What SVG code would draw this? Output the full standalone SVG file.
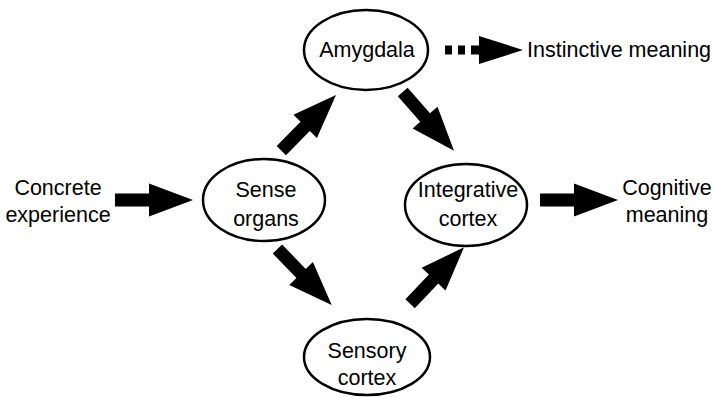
<svg xmlns="http://www.w3.org/2000/svg" xmlns:xlink="http://www.w3.org/1999/xlink" width="713" height="397" viewBox="0 0 713 397">
  <style>
    .node ellipse { fill: #fff; stroke: #000; stroke-width: 2.5; }
    text { font-family: "Liberation Sans", Arial, sans-serif; font-size: 21.5px; fill: #000; text-anchor: middle; }
    .lbl-start { text-anchor: start; }
    .arrow { fill: #000; }
  </style>
  <defs>
    <!-- block arrow, tip at origin, pointing along +x -->
    <path id="blockArrow" d="M0,0 L-44,-16.5 L-44,-6.5 L-78,-6.5 L-78,6.5 L-44,6.5 L-44,16.5 Z"/>
  </defs>

  <rect width="713" height="397" fill="#fff"/>

  <!-- connectors -->
  <g id="connectors" class="arrow">
    <use xlink:href="#blockArrow" transform="translate(193,200)"/>
    <use xlink:href="#blockArrow" transform="translate(336,95) rotate(-45.5)"/>
    <use xlink:href="#blockArrow" transform="translate(454,150.7) rotate(48.9)"/>
    <use xlink:href="#blockArrow" transform="translate(331.7,305) rotate(45.9)"/>
    <use xlink:href="#blockArrow" transform="translate(464,247.3) rotate(-46.3)"/>
    <use xlink:href="#blockArrow" transform="translate(618,200)"/>
    <!-- dotted arrow to the instinctive meaning -->
    <g id="dottedArrow">
      <rect x="445" y="45.5" width="7" height="9"/>
      <rect x="458" y="45.5" width="7" height="9"/>
      <rect x="471" y="45.5" width="8" height="9"/>
      <path d="M523,50 L479,36 L479,64 Z"/>
    </g>
  </g>

  <!-- free labels -->
  <g id="concrete-experience">
    <text x="58" y="195">Concrete</text>
    <text x="58" y="222">experience</text>
  </g>
  <g id="instinctive-meaning">
    <text class="lbl-start" x="527" y="57">Instinctive meaning</text>
  </g>
  <g id="cognitive-meaning">
    <text x="667" y="195">Cognitive</text>
    <text x="667" y="222">meaning</text>
  </g>

  <!-- nodes -->
  <g id="amygdala" class="node">
    <ellipse cx="366" cy="50" rx="62" ry="40"/>
    <text x="367" y="57">Amygdala</text>
  </g>
  <g id="sense-organs" class="node">
    <ellipse cx="264" cy="200" rx="61" ry="41"/>
    <text x="266" y="197">Sense</text>
    <text x="266" y="226">organs</text>
  </g>
  <g id="integrative-cortex" class="node">
    <ellipse cx="466" cy="205" rx="61" ry="41"/>
    <text x="468" y="197">Integrative</text>
    <text x="468" y="226">cortex</text>
  </g>
  <g id="sensory-cortex" class="node">
    <ellipse cx="367" cy="357" rx="63" ry="38"/>
    <text x="367" y="358">Sensory</text>
    <text x="367" y="385">cortex</text>
  </g>
</svg>
